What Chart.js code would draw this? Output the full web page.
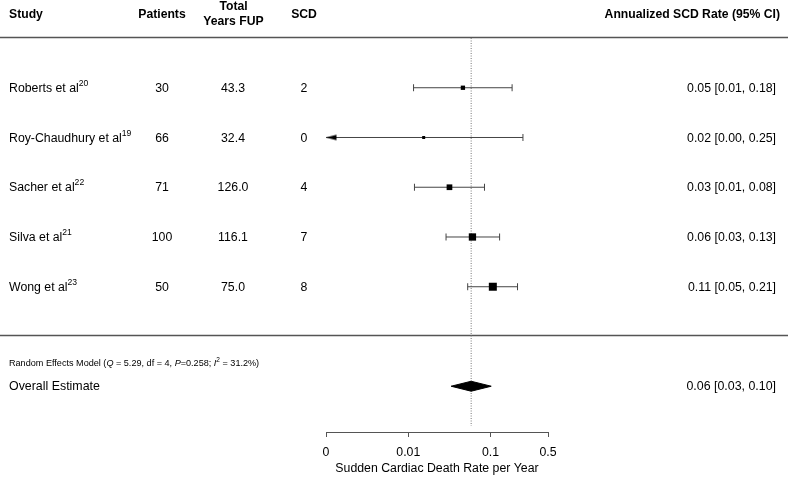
<!DOCTYPE html>
<html>
<head>
<meta charset="utf-8">
<script src="https://cdn.jsdelivr.net/npm/chart.js@4.4.1/dist/chart.umd.min.js"></script>
<style>
  html, body { margin: 0; padding: 0; background: #fff; }
  #wrap { width: 788px; height: 482px; position: relative; }
</style>
</head>
<body>
<div id="wrap"><canvas id="forest"></canvas></div>
<script>
// study table
const studies = ['Roberts et al', 'Roy-Chaudhury et al', 'Sacher et al', 'Silva et al', 'Wong et al'];
const refs = ['20', '19', '22', '21', '23'];
const patients = ['30', '66', '71', '100', '50'];
const yearsFup = ['43.3', '32.4', '126.0', '116.1', '75.0'];
const scd = ['2', '0', '4', '7', '8'];

// annualized SCD rate and 95% CI per study
const rate = [0.0462, 0.0154, 0.0317, 0.0603, 0.1067];
const ciLow = [0.0116, 0, 0.0119, 0.0288, 0.0528];
const ciHigh = [0.183, 0.248, 0.0845, 0.129, 0.213];

// random effects summary
const overallRate = 0.0582;
const overallLow = 0.0332;
const overallHigh = 0.102;

// x axis
const tickValues = [0.001, 0.01, 0.1, 0.5];
const tickLabels = ['0', '0.01', '0.1', '0.5'];

const X_MIN = 0.001;
const X_MAX = 0.5;
const FONT = '"Liberation Sans", Arial, Helvetica, sans-serif';
const boxSide = [4.3, 3, 5.7, 7.3, 8]; // marker size (study weight)
const OVERALL_ROW = 7;

Chart.defaults.font.family = FONT;
Chart.defaults.font.size = 12.3;
Chart.defaults.color = '#000';

// left pointing arrow for CIs cut by the axis
const arrow = document.createElement('canvas');
arrow.width = 22;
arrow.height = 8;
(function () {
  const c = arrow.getContext('2d');
  c.fillStyle = '#000';
  c.beginPath();
  c.moveTo(11, 4);
  c.lineTo(21.5, 1.2);
  c.lineTo(21.5, 6.8);
  c.closePath();
  c.fill();
})();

const fmt = v => v.toFixed(2);

const datasets = [];

// squares
datasets.push({
  data: rate.map((r, i) => ({ x: r, y: i + 1 })),
  showLine: false,
  pointStyle: 'rect',
  pointRadius: boxSide.map(s => s / Math.SQRT2),
  pointBackgroundColor: '#000',
  pointBorderWidth: 0,
  order: 0
});

// confidence intervals
rate.forEach((r, i) => {
  const cut = ciLow[i] < X_MIN;
  datasets.push({
    data: [{ x: Math.max(ciLow[i], X_MIN), y: i + 1 }, { x: ciHigh[i], y: i + 1 }],
    borderColor: '#444',
    borderWidth: 1,
    pointStyle: [cut ? arrow : 'line', 'line'],
    pointRotation: [cut ? 0 : 90, 90],
    pointRadius: 3.5,
    pointBorderColor: '#444',
    pointBorderWidth: 1,
    order: 1
  });
});

// summary diamond
const dh = 0.1;
datasets.push({
  data: [{ x: overallLow, y: OVERALL_ROW }, { x: overallRate, y: OVERALL_ROW - dh }, { x: overallHigh, y: OVERALL_ROW }],
  borderColor: '#000', borderWidth: 1, pointRadius: 0, order: 2
});
datasets.push({
  data: [{ x: overallLow, y: OVERALL_ROW }, { x: overallRate, y: OVERALL_ROW + dh }, { x: overallHigh, y: OVERALL_ROW }],
  borderColor: '#000', borderWidth: 1, pointRadius: 0,
  fill: '-1', backgroundColor: '#000', order: 2
});

// reference line at the summary estimate
datasets.push({
  data: [{ x: overallRate, y: 0 }, { x: overallRate, y: 7.8 }],
  borderColor: '#777',
  borderWidth: 1,
  borderDash: [1, 1.5],
  pointRadius: 0,
  order: 5
});

function supText(ctx, text, sup, x, y, size) {
  ctx.font = size + 'px ' + FONT;
  ctx.fillText(text, x, y);
  const w = ctx.measureText(text).width;
  ctx.font = (size * 0.7) + 'px ' + FONT;
  ctx.fillText(sup, x + w, y - 5);
}

const tablePlugin = {
  id: 'table',
  beforeDatasetsDraw(chart) {
    const { ctx, scales: { y } } = chart;
    ctx.save();
    ctx.strokeStyle = '#555';
    ctx.lineWidth = 1.5;
    [0, 6].forEach(v => {
      const py = Math.round(y.getPixelForValue(v)) - 0.5;
      ctx.beginPath();
      ctx.moveTo(0, py);
      ctx.lineTo(chart.width, py);
      ctx.stroke();
    });
    ctx.restore();
  },
  afterDraw(chart) {
    const { ctx, scales: { y } } = chart;
    ctx.save();
    ctx.fillStyle = '#000';
    ctx.textBaseline = 'middle';

    // header
    ctx.font = 'bold 12.2px ' + FONT;
    ctx.textAlign = 'left';
    ctx.fillText('Study', 9, 14.5);
    ctx.textAlign = 'center';
    ctx.fillText('Patients', 162, 14.5);
    ctx.fillText('Total', 233.5, 7);
    ctx.fillText('Years FUP', 233.5, 21.5);
    ctx.fillText('SCD', 304, 14.5);
    ctx.textAlign = 'right';
    ctx.fillText('Annualized SCD Rate (95% CI)', 780, 14.5);

    // rows
    studies.forEach((s, i) => {
      const py = y.getPixelForValue(i + 1) + 0.7;
      ctx.textAlign = 'left';
      supText(ctx, s, refs[i], 9, py, 12.3);
      ctx.font = '12.3px ' + FONT;
      ctx.textAlign = 'center';
      ctx.fillText(patients[i], 162, py);
      ctx.fillText(yearsFup[i], 233, py);
      ctx.fillText(scd[i], 304, py);
      ctx.textAlign = 'right';
      ctx.fillText(fmt(rate[i]) + ' [' + fmt(ciLow[i]) + ', ' + fmt(ciHigh[i]) + ']', 776, py);
    });

    // model line
    const ry = y.getPixelForValue(6.55);
    const parts = [
      ['Random Effects Model (', false], ['Q', true], [' = 5.29, df = 4, ', false],
      ['P', true], ['=0.258; ', false], ['I', true], ['2', 'sup'], [' = 31.2%)', false]
    ];
    let x = 9;
    ctx.textAlign = 'left';
    parts.forEach(([t, st]) => {
      if (st === 'sup') {
        ctx.font = '6.5px ' + FONT;
        ctx.fillText(t, x, ry - 3.5);
      } else {
        ctx.font = (st ? 'italic ' : '') + '9.1px ' + FONT;
        ctx.fillText(t, x, ry);
      }
      x += ctx.measureText(t).width;
    });

    const oy = y.getPixelForValue(OVERALL_ROW) + 0.5;
    ctx.font = '12.4px ' + FONT;
    ctx.fillText('Overall Estimate', 9, oy);
    ctx.textAlign = 'right';
    ctx.fillText(fmt(overallRate) + ' [' + fmt(overallLow) + ', ' + fmt(overallHigh) + ']', 776, oy);
    ctx.restore();
  }
};

new Chart(document.getElementById('forest'), {
  type: 'line',
  data: { datasets },
  options: {
    responsive: true,
    maintainAspectRatio: false,
    animation: false,
    events: [],
    layout: { padding: { left: 326, right: 240, top: 38, bottom: 0 } },
    plugins: { legend: { display: false }, tooltip: { enabled: false } },
    scales: {
      x: {
        type: 'logarithmic',
        min: X_MIN,
        max: X_MAX,
        afterBuildTicks: s => { s.ticks = tickValues.map(v => ({ value: v })); },
        afterFit: s => { s.height = 50; },
        grid: { drawOnChartArea: false, drawTicks: true, tickLength: 5, color: '#555' },
        border: { display: true, color: '#555', width: 1 },
        ticks: {
          autoSkip: false,
          maxRotation: 0,
          padding: 8.5,
          color: '#000',
          font: { size: 12.3 },
          callback: (v, i) => tickLabels[i]
        },
        title: {
          display: true,
          text: 'Sudden Cardiac Death Rate per Year',
          color: '#000',
          font: { size: 12.3 },
          padding: { top: 0, bottom: 6.5 }
        }
      },
      y: {
        type: 'linear',
        display: false,
        reverse: true,
        min: 0,
        max: 7.92
      }
    }
  },
  plugins: [tablePlugin]
});
</script>
</body>
</html>
